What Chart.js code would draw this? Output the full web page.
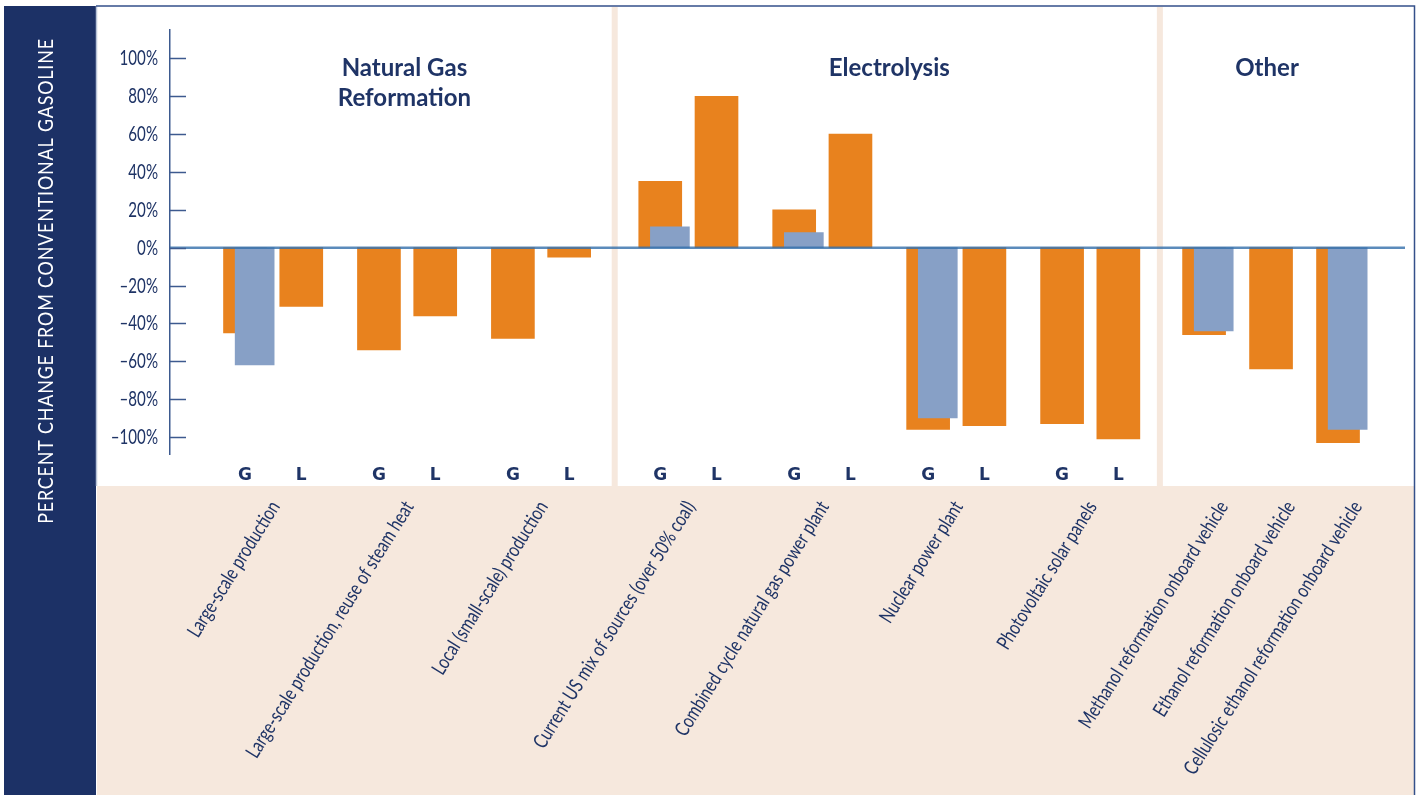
<!DOCTYPE html>
<html>
<head>
<meta charset="utf-8">
<script src="https://cdn.jsdelivr.net/npm/chart.js@4/dist/chart.umd.min.js"></script>
<style>
  html, body { margin: 0; padding: 0; background: #fff; overflow: hidden; }
  canvas { display: block; }
</style>
</head>
<body>
<canvas id="chart" width="1421" height="795"></canvas>
<script>
// Data
const categories = [
  'Large-scale production',
  'Large-scale production, reuse of steam heat',
  'Local (small-scale) production',
  'Current US mix of sources (over 50% coal)',
  'Combined cycle natural gas power plant',
  'Nuclear power plant',
  'Photovoltaic solar panels',
  'Methanol reformation onboard vehicle',
  'Ethanol reformation onboard vehicle',
  'Cellulosic ethanol reformation onboard vehicle'
];
const sectionTitles = [['Natural Gas', 'Reformation'], ['Electrolysis'], ['Other']];
const sectionOf = [0, 0, 0, 1, 1, 1, 1, 2, 2, 2];
const gasValues = [-45, -54, -48, 35, 20, -96, -93, -46, -64, -103];        // G, orange
const liquidValues = [-31, -36, -5, 80, 60, -94, -101, null, null, null];   // L, orange
const gasAltValues = [-62, null, null, 11, 8, -90, null, -44, null, -96];   // G, blue
const yTickValues = [-100, -80, -60, -40, -20, 0, 20, 40, 60, 80, 100];
const yTitle = 'PERCENT CHANGE FROM CONVENTIONAL GASOLINE';

// colours
const ORANGE = '#e8821e';
const BLUE = '#87a0c6';
const NAVY = '#1f3466';
const BAND = '#1c3166';
const BEIGE = '#f6e8dd';
const AXIS = '#3d5a8f';
const FONT = 'Lato, "Open Sans", sans-serif';

// layout along a hidden linear x axis (one unit ~ a tenth of a G/L pair pitch)
const X_MAX = 92.2;
const sectionStart = [5.6, 36.6, 77.2];
const sectionPitch = [10, 10, 5];
const sectionBreaks = [33.2, 73.9];
const sectionTitleAt = [17.5, 53.7, 81.9];
const L_OFFSET = 4.2;
const ALT_OFFSET = 0.72;
const LABEL_ANGLE = 58;
const CONDENSE = 0.78; // the reference uses a condensed face

const pos = categories.map((c, i) => {
  const s = sectionOf[i];
  const k = sectionOf.slice(0, i).filter(v => v === s).length;
  return sectionStart[s] + k * sectionPitch[s];
});

// G / L letters under the bars
const letterTicks = [];
categories.forEach((c, i) => {
  if (liquidValues[i] === null) return;
  letterTicks.push({ value: pos[i], label: 'G' });
  letterTicks.push({ value: pos[i] + L_OFFSET, label: 'L' });
});
// category labels, anchored past a G/L pair or just right of a single bar
const labelTicks = categories.map((c, i) => ({
  value: pos[i] + (liquidValues[i] === null ? 1.45 : 2.25),
  label: c
}));

const points = (vals, shift) => vals
  .map((v, i) => (v === null ? null : { x: pos[i] + shift, y: v }))
  .filter(p => p !== null);

// condensed text helper
function condensedText(ctx, text, x, y, angle, k) {
  ctx.save();
  ctx.translate(x, y);
  ctx.rotate(angle);
  ctx.scale(k, 1);
  ctx.fillText(text, 0, 0);
  ctx.restore();
}

const framePlugin = {
  id: 'frame',
  beforeDraw(chart) {
    const { ctx, width, height } = chart;
    const x = chart.scales.x;
    const bandTop = chart.scales.xl.top;
    ctx.save();
    ctx.fillStyle = '#fff';
    ctx.fillRect(0, 0, width, height);
    // navy side band
    ctx.fillStyle = BAND;
    ctx.fillRect(4, 6, 92, height - 6);
    // beige band under the plot
    ctx.fillStyle = BEIGE;
    ctx.fillRect(97, bandTop, 1317, height - bandTop);
    // section separators
    sectionBreaks.forEach(v => {
      const px = x.getPixelForValue(v);
      ctx.fillRect(px - 3, 7, 6, bandTop - 7);
    });
    // frame lines
    ctx.strokeStyle = '#b9c4d8';
    ctx.lineWidth = 1.5;
    ctx.beginPath();
    ctx.moveTo(96.5, 6);
    ctx.lineTo(96.5, bandTop);
    ctx.stroke();
    ctx.strokeStyle = '#34508a';
    ctx.beginPath();
    ctx.moveTo(96, 6);
    ctx.lineTo(1414.5, 6);
    ctx.lineTo(1414.5, height);
    ctx.stroke();
    // rotated title in the band
    ctx.fillStyle = '#fff';
    ctx.font = '21px ' + FONT;
    ctx.letterSpacing = '1px';
    ctx.textAlign = 'center';
    ctx.textBaseline = 'middle';
    condensedText(ctx, yTitle, 46, 281, -Math.PI / 2, 0.85);
    ctx.restore();
  },
  afterDatasetsDraw(chart) {
    const { ctx } = chart;
    const { x, y, xl } = chart.scales;
    const area = chart.chartArea;
    ctx.save();
    // zero line over the bars
    const y0 = y.getPixelForValue(0);
    ctx.strokeStyle = 'rgba(50,110,170,0.8)';
    ctx.lineWidth = 2.5;
    ctx.beginPath();
    ctx.moveTo(area.left, y0);
    ctx.lineTo(area.right, y0);
    ctx.stroke();
    // y ticks: marks pointing into the plot, condensed labels
    ctx.strokeStyle = AXIS;
    ctx.lineWidth = 1.5;
    ctx.fillStyle = NAVY;
    ctx.font = '21px ' + FONT;
    ctx.textAlign = 'right';
    ctx.textBaseline = 'middle';
    yTickValues.forEach(v => {
      const py = Math.round(y.getPixelForValue(v)) + 0.5;
      ctx.beginPath();
      ctx.moveTo(area.left, py);
      ctx.lineTo(area.left + 16, py);
      ctx.stroke();
      const txt = (v < 0 ? '\u2013' + Math.abs(v) : v) + '%';
      condensedText(ctx, txt, area.left - 12, py, 0, 0.72);
    });
    // rotated category labels on the label axis
    ctx.font = '20px ' + FONT;
    labelTicks.forEach(t => {
      const px = xl.getPixelForValue(t.value);
      condensedText(ctx, t.label, px, xl.top + 17, -LABEL_ANGLE * Math.PI / 180, CONDENSE);
    });
    // section titles
    ctx.font = 'bold 24px ' + FONT;
    ctx.textAlign = 'center';
    ctx.textBaseline = 'alphabetic';
    sectionTitles.forEach((lines, s) => {
      const px = x.getPixelForValue(sectionTitleAt[s]);
      lines.forEach((line, j) => ctx.fillText(line, px, 76 + j * 30));
    });
    ctx.restore();
  }
};

const ctx = document.getElementById('chart').getContext('2d');
new Chart(ctx, {
  type: 'bar',
  data: {
    datasets: [
      { label: 'G (alt)', data: points(gasAltValues, ALT_OFFSET), backgroundColor: BLUE, barThickness: 39 },
      { label: 'G', data: points(gasValues, 0), backgroundColor: ORANGE, barThickness: 43 },
      { label: 'L', data: points(liquidValues, L_OFFSET), backgroundColor: ORANGE, barThickness: 43 }
    ]
  },
  options: {
    responsive: false,
    animation: false,
    grouped: false,
    layout: { padding: { top: 30, right: 16, left: 0, bottom: 0 } },
    plugins: { legend: { display: false }, tooltip: { enabled: false } },
    scales: {
      x: {
        type: 'linear',
        position: 'bottom',
        weight: 0,
        min: 0,
        max: X_MAX,
        offset: false,
        grid: { display: false },
        border: { display: false },
        afterBuildTicks: s => { s.ticks = letterTicks.map(t => ({ value: t.value })); },
        afterFit: s => { s.height = 32; },
        ticks: {
          autoSkip: false,
          maxRotation: 0,
          padding: 3,
          color: NAVY,
          font: { family: '"DejaVu Sans", sans-serif', size: 17, weight: 'bold' },
          callback: (v, i) => letterTicks[i].label
        }
      },
      xl: {
        type: 'linear',
        position: 'bottom',
        weight: 1,
        min: 0,
        max: X_MAX,
        offset: false,
        grid: { display: false },
        border: { display: false },
        afterBuildTicks: s => { s.ticks = labelTicks.map(t => ({ value: t.value })); },
        afterFit: s => { s.height = 309; },
        ticks: { display: false }
      },
      y: {
        min: -109,
        max: 115,
        grid: { display: false, drawTicks: false },
        border: { display: true, color: AXIS, width: 1.5 },
        afterBuildTicks: s => { s.ticks = yTickValues.map(v => ({ value: v })); },
        afterFit: s => { s.width = 170; },
        ticks: { display: false }
      }
    }
  },
  plugins: [framePlugin]
});
</script>
</body>
</html>
